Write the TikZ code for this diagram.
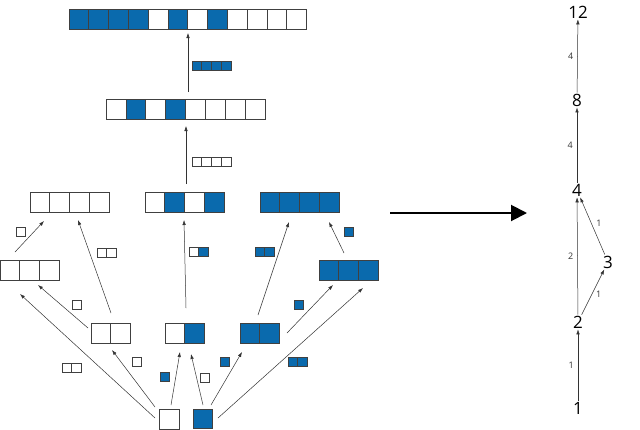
\documentclass[tikz,border=0pt]{standalone}
\usepackage{fontspec}
\setmainfont{Open Sans}
\usetikzlibrary{arrows.meta}
\definecolor{bl}{HTML}{0A6AAD}
\tikzset{cell/.style={draw=black!75,line width=0.7pt},
 conn/.style={-{Latex[length=5pt,width=3.5pt]},black!80,line width=0.5pt},
 big/.style={-{Triangle[length=16pt,width=16pt]},black,line width=2pt},
 num/.style={font=\fontsize{17}{17}\selectfont,inner sep=1pt},
 lab/.style={font=\fontsize{9}{9}\selectfont,inner sep=1pt}}
\newcommand\crow[7]{%
 \foreach \c [count=\i from 0] in {#7}{%
  \ifnum\c=1 \def\fc{bl}\else\def\fc{white}\fi
  \draw[cell,fill=\fc] (#2+\i*#4,#3) rectangle ++(#4,#5);}%
 \node[inner sep=0,minimum width=#6*#4,minimum height=#5] (#1) at (#2+#6*#4/2,#3+#5/2) {};}
\begin{document}
\begin{tikzpicture}[x=1pt,y=-1pt]
\useasboundingbox (0,0) rectangle (640,429);
% rows
\crow{top}{69}{9}{19.8}{20}{12}{1,1,1,1,0,1,0,1,0,0,0,0}
\crow{r2}{106}{99}{19.9}{20}{8}{0,1,0,1,0,0,0,0}
\crow{r3a}{30}{192}{19.8}{20}{4}{0,0,0,0}
\crow{r3b}{145}{192}{19.8}{20}{4}{0,1,0,1}
\crow{r3c}{260}{192}{19.8}{20}{4}{1,1,1,1}
\crow{r4a}{0}{260}{19.7}{20}{3}{0,0,0}
\crow{r4b}{319}{260}{19.7}{20}{3}{1,1,1}
\crow{r5a}{91}{323}{19.5}{20}{2}{0,0}
\crow{r5b}{165}{323}{19.5}{20}{2}{0,1}
\crow{r5c}{240}{323}{19.5}{20}{2}{1,1}
\crow{b0}{159}{409}{20}{20}{1}{0}
\crow{b1}{193}{409}{19.5}{19.5}{1}{1}
% labels (small strips)
\crow{l1}{192}{61}{9.8}{9}{4}{1,1,1,1}
\crow{l2}{192}{157}{9.8}{9}{4}{0,0,0,0}
\crow{l3}{16}{227}{9}{9}{1}{0}
\crow{l4}{97}{248}{9.7}{9}{2}{0,0}
\crow{l5}{189}{247}{9.7}{9}{2}{0,1}
\crow{l6}{255}{247}{9.7}{9}{2}{1,1}
\crow{l7}{344}{227}{9}{9}{1}{1}
\crow{l8}{62}{363}{9.7}{9}{2}{0,0}
\crow{l9}{72}{300}{9.5}{9}{1}{0}
\crow{l10}{132}{357}{9.5}{9}{1}{0}
\crow{l11}{160}{372}{9}{9}{1}{1}
\crow{l12}{200}{373}{9.5}{9}{1}{0}
\crow{l13}{220}{357}{9.5}{9}{1}{1}
\crow{l14}{288}{357}{9.8}{9}{2}{1,1}
\crow{l15}{294}{300}{9.5}{9}{1}{1}
% arrow end points
\coordinate (a1s) at (188,92);  \coordinate (a1e) at (188,33);
\coordinate (a2s) at (186,184); \coordinate (a2e) at (186,126);
\coordinate (a3s) at (15,252);  \coordinate (a3e) at (44,221);
\coordinate (a4s) at (111,313); \coordinate (a4e) at (78,220);
\coordinate (a5s) at (186,308); \coordinate (a5e) at (184,220);
\coordinate (a6s) at (258,315); \coordinate (a6e) at (289,222);
\coordinate (a7s) at (344,253); \coordinate (a7e) at (329,222);
\coordinate (a8s) at (155,418); \coordinate (a8e) at (20,294);
\coordinate (a9s) at (88,328);  \coordinate (a9e) at (38,285);
\coordinate (a10s) at (155,407); \coordinate (a10e) at (112,350);
\coordinate (a11s) at (171,405); \coordinate (a11e) at (180,352);
\coordinate (a12s) at (203,405); \coordinate (a12e) at (191,354);
\coordinate (a13s) at (211,405); \coordinate (a13e) at (242,352);
\coordinate (a14s) at (218,418); \coordinate (a14e) at (363,288);
\coordinate (a15s) at (287,333); \coordinate (a15e) at (333,285);
\foreach \k in {1,...,15}{\draw[conn] (a\k s) -- (a\k e);}
% big arrow
\coordinate (bs) at (390,213); \coordinate (be) at (527,213);
\draw[big] (bs) -- (be);
% right graph
\node[num] (n12) at (578,12) {12};
\node[num] (n8) at (577,100) {8};
\node[num] (n4) at (577,190) {4};
\node[num] (n3) at (608,262) {3};
\node[num] (n2) at (578,322) {2};
\node[num] (n1) at (578,408) {1};
\draw[conn] (n1) -- node[lab,left=3pt]{1} (n2);
\draw[conn] (n2) -- node[lab,left=3pt]{2} (n4);
\draw[conn] (n2) -- node[lab,right=3pt,pos=0.45]{1} (n3);
\draw[conn] (n3) -- node[lab,right=4pt,pos=0.55]{1} (n4);
\draw[conn] (n4) -- node[lab,left=3pt]{4} (n8);
\draw[conn] (n8) -- node[lab,left=3pt]{4} (n12);
\end{tikzpicture}
\end{document}
